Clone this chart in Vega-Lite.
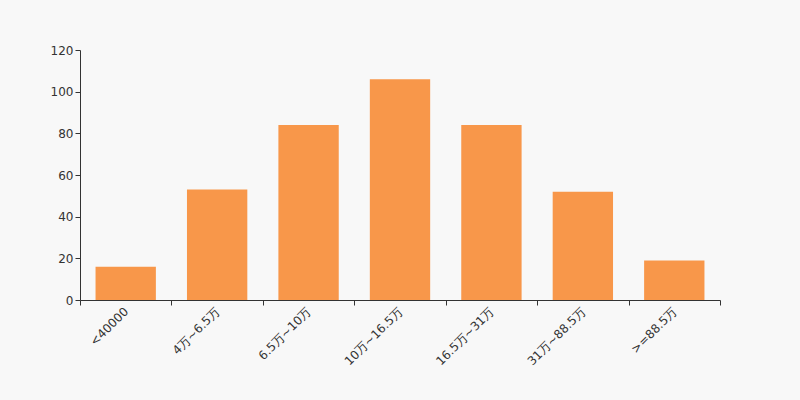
{
  "$schema": "https://vega.github.io/schema/vega-lite/v6.json",
  "width": 640,
  "height": 250,
  "autosize": {"type": "none"},
  "padding": {"left": 80, "top": 50, "right": 80, "bottom": 100},
  "background": "#f8f8f8",
  "config": {"view": {"stroke": null}, "font": "DejaVu Sans"},
  "data": {
    "values": [
      {"range": "<40000", "count": 16},
      {"range": "4万~6.5万", "count": 53},
      {"range": "6.5万~10万", "count": 84},
      {"range": "10万~16.5万", "count": 106},
      {"range": "16.5万~31万", "count": 84},
      {"range": "31万~88.5万", "count": 52},
      {"range": ">=88.5万", "count": 19}
    ]
  },
  "mark": {"type": "bar", "color": "#f8974a", "width": {"band": 0.66}},
  "encoding": {
    "x": {
      "field": "range",
      "type": "nominal",
      "sort": null,
      "scale": {"paddingInner": 0, "paddingOuter": 0},
      "axis": {
        "title": null,
        "labelAngle": -45,
        "labelAlign": "right",
        "labelBaseline": "middle",
        "labelFontSize": 12,
        "labelColor": "#333333",
        "labelPadding": 4,
        "tickBand": "extent",
        "tickSize": 5,
        "tickColor": "#333333",
        "domainColor": "#333333"
      }
    },
    "y": {
      "field": "count",
      "type": "quantitative",
      "scale": {"domain": [0, 120]},
      "axis": {
        "title": null,
        "values": [0, 20, 40, 60, 80, 100, 120],
        "grid": false,
        "labelFontSize": 12,
        "labelColor": "#333333",
        "tickSize": 5,
        "tickColor": "#333333",
        "domainColor": "#333333"
      }
    }
  }
}
